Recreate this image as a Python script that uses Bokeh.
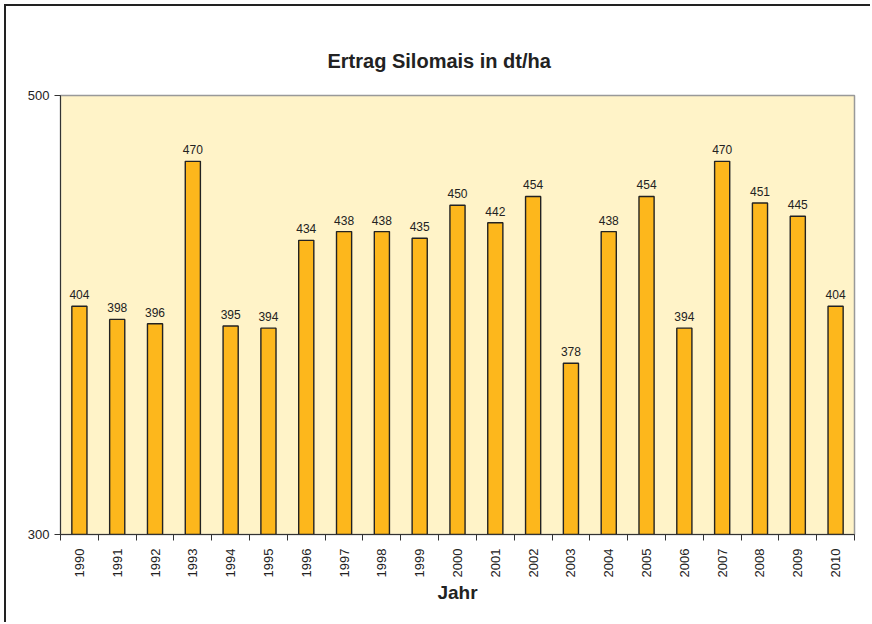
from bokeh.plotting import figure
from bokeh.models import ColumnDataSource, LabelSet, FixedTicker, Range1d
from bokeh.core.properties import value
from bokeh.embed import file_html
from bokeh.resources import INLINE

years = ["1990", "1991", "1992", "1993", "1994", "1995", "1996", "1997", "1998", "1999",
         "2000", "2001", "2002", "2003", "2004", "2005", "2006", "2007", "2008", "2009", "2010"]
ertrag = [404, 398, 396, 470, 395, 394, 434, 438, 438, 435,
          450, 442, 454, 378, 438, 454, 394, 470, 451, 445, 404]
y_ticks = [300, 500]

idx = list(range(len(years)))
src = ColumnDataSource(dict(x=idx, top=ertrag, lab=[str(v) for v in ertrag]))

FONT = "Liberation Sans"

p = figure(width=866, height=618, output_backend="svg", toolbar_location=None,
           x_range=Range1d(-0.5, len(years) - 0.5), y_range=Range1d(300, 500),
           min_border_left=54, min_border_right=18, min_border_top=89, min_border_bottom=90)

p.styles = {"border-top": "2px solid #222", "border-left": "2px solid #222",
            "margin-left": "4px", "margin-top": "4px"}

p.title.text = "Ertrag Silomais in dt/ha"
p.title.align = "left"
p.title.vertical_align = "top"
p.title.offset = 267
p.title.text_font = FONT
p.title.text_font_size = "20px"
p.title.text_color = "#222222"
p.title.standoff = 43

p.background_fill_color = "#FFF3C8"
p.border_fill_color = "white"
p.outline_line_color = "#999999"
p.outline_line_width = 1.5
p.grid.visible = False

p.vbar(x="x", top="top", bottom=300, width=0.4, source=src,
       fill_color="#FDB71C", line_color="#222222", line_width=1.4)

labels = LabelSet(x="x", y="top", text="lab", source=src, y_offset=7,
                  text_align="center", text_baseline="bottom",
                  text_font=value(FONT), text_font_size="12px", text_color="#222222")
p.add_layout(labels)

xa = p.xaxis[0]
xa.ticker = FixedTicker(ticks=idx, minor_ticks=[i - 0.5 for i in range(len(years) + 1)])
xa.major_label_overrides = {i: y for i, y in enumerate(years)}
xa.major_label_orientation = 1.5708
xa.major_tick_line_color = None
xa.minor_tick_line_color = "#333333"
xa.minor_tick_out = 6
xa.minor_tick_in = 0
xa.axis_line_color = "#333333"
xa.major_label_text_font = FONT
xa.major_label_text_font_size = "13px"
xa.major_label_text_color = "#222222"
xa.major_label_standoff = 8
xa.axis_label = "Jahr"
xa.axis_label_text_font = FONT
xa.axis_label_text_font_style = "bold"
xa.axis_label_text_font_size = "19px"
xa.axis_label_text_color = "#222222"
xa.axis_label_standoff = 2

ya = p.yaxis[0]
ya.ticker = FixedTicker(ticks=y_ticks, minor_ticks=[])
ya.major_tick_out = 6
ya.major_tick_in = 0
ya.major_tick_line_color = "#333333"
ya.axis_line_color = "#333333"
ya.major_label_text_font = FONT
ya.major_label_text_font_size = "13px"
ya.major_label_text_color = "#222222"

open("out.html", "w").write(file_html(p, INLINE))
